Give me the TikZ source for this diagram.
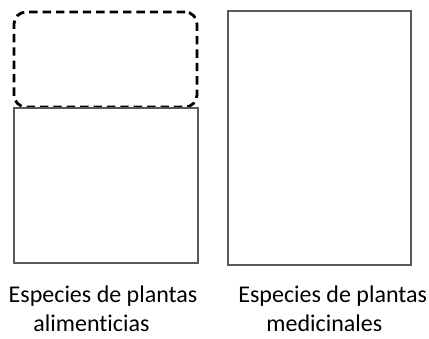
\documentclass[tikz,border=0pt]{standalone}
\usepackage{fontspec}
\setmainfont{Carlito}[Ligatures=NoCommon]
\begin{document}
\begin{tikzpicture}[
    x=0.5pt, y=-0.5pt,
    plainbox/.style={rectangle, draw=black!65, line width=0.8pt, fill=white, inner sep=0pt},
    dashbox/.style={rectangle, rounded corners=6pt, draw=black, line width=1.4pt, dash pattern=on 4.2pt off 2.5pt, inner sep=0pt},
    caption/.style={anchor=base west, inner sep=0pt, font=\fontsize{12}{14.5}\selectfont}
]
    \useasboundingbox (0,0) rectangle (429,338);

    \node[dashbox, minimum width=91.5pt, minimum height=47.5pt] at (105.5,59.5) (slot) {};
    \node[plainbox, minimum width=92pt, minimum height=77.5pt] at (106,185.5) (food) {};
    \node[plainbox, minimum width=91.5pt, minimum height=127pt] at (319.5,138) (medic) {};

    \node[caption] at (8.3,302) (foodA) {Especies de plantas};
    \node[caption] at (33,331.7) (foodB) {alimenticias};
    \node[caption] at (238,302) (medicA) {Especies de plantas};
    \node[caption] at (266,331.7) (medicB) {medicinales};
\end{tikzpicture}
\end{document}
